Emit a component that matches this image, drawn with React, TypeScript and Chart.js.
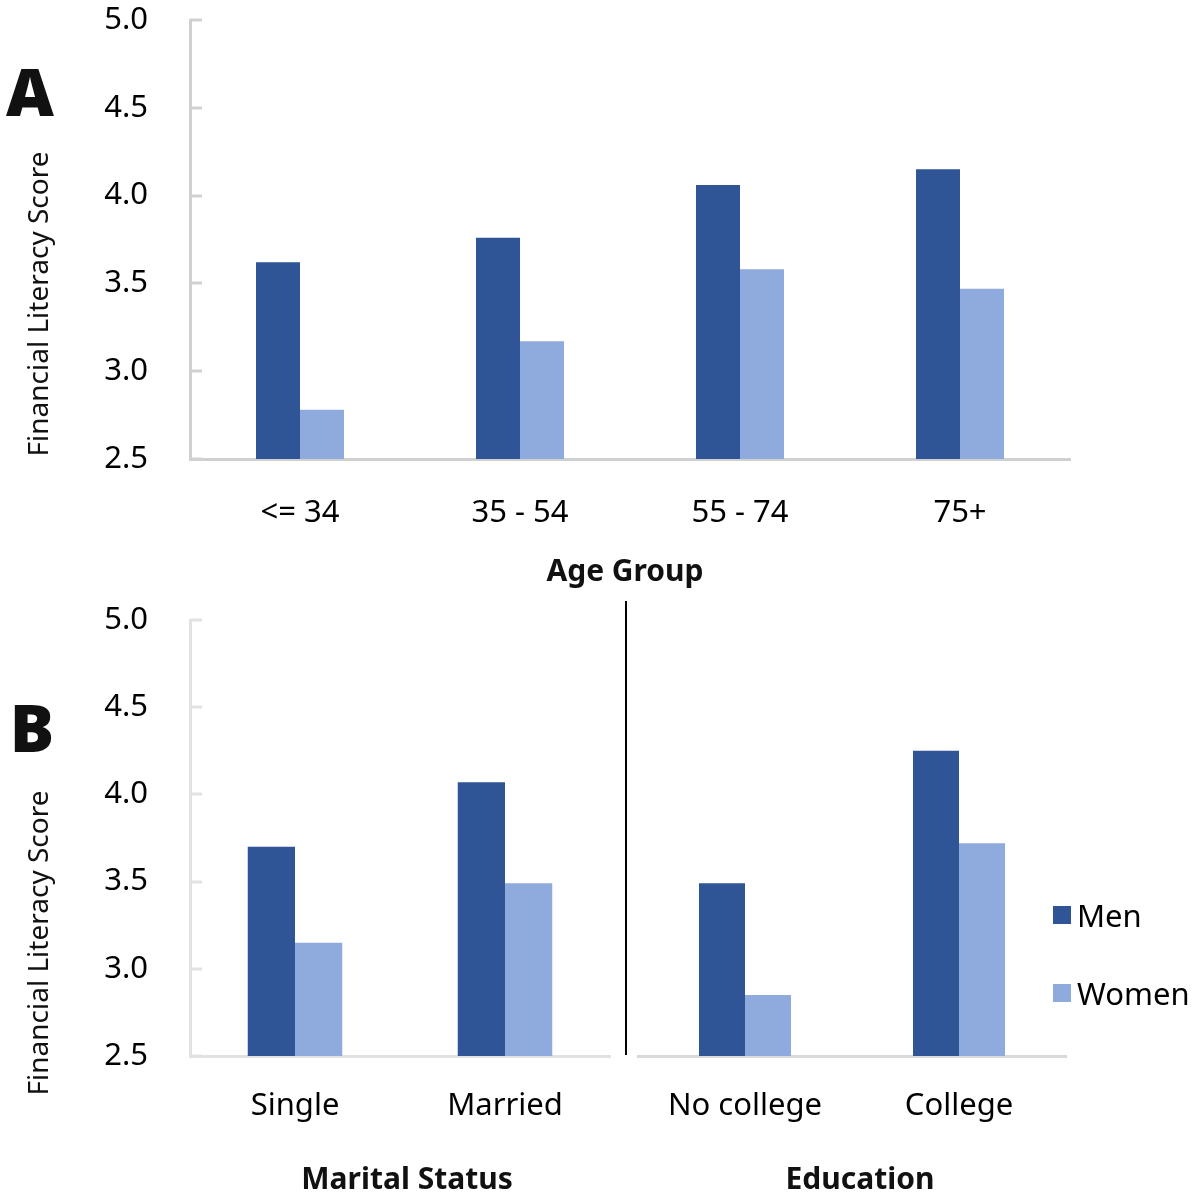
import React, { useEffect, useRef } from "react";
import { Chart, registerables } from "chart.js";

Chart.register(...registerables);

// ---- Data ----
const seriesNames = ["Men", "Women"];
const ageGroups = ["<= 34", "35 - 54", "55 - 74", "75+"];
const ageMen = [3.62, 3.76, 4.06, 4.15];
const ageWomen = [2.78, 3.17, 3.58, 3.47];
const maritalGroups = ["Single", "Married"];
const maritalMen = [3.7, 4.07];
const maritalWomen = [3.15, 3.49];
const eduGroups = ["No college", "College"];
const eduMen = [3.49, 4.25];
const eduWomen = [2.85, 3.72];
const yMin = 2.5;
const yMax = 5.0;
const yStep = 0.5;

const MEN_COLOR = "#2F5597";
const WOMEN_COLOR = "#8FAADC";
const FONT = '"Noto Sans", "Open Sans", sans-serif';

Chart.defaults.font.family = FONT;

const innerTicks = {
  id: "innerTicks",
  beforeDatasetsDraw(chart: any, _args: any, opts: any) {
    if (!opts || !opts.enabled) return;
    const y = chart.scales.y;
    const ctx = chart.ctx;
    ctx.save();
    ctx.strokeStyle = opts.color;
    ctx.lineWidth = 3;
    y.ticks.forEach((t: any) => {
      const py = Math.round(y.getPixelForValue(t.value));
      ctx.beginPath();
      ctx.moveTo(chart.chartArea.left, py);
      ctx.lineTo(chart.chartArea.left + 12, py);
      ctx.stroke();
    });
    ctx.restore();
  },
};

type Props = {
  labels: string[];
  men: number[];
  women: number[];
  catPct: number;
  left: number;
  top: number;
  width: number;
  height: number;
  padding: { top: number; right: number; left: number; bottom: number };
  yWidth: number;
  xHeight: number;
  showY: boolean;
  axisColor: string;
  xTickPad: number;
};

function BarPanel(p: Props) {
  const ref = useRef<HTMLCanvasElement | null>(null);
  useEffect(() => {
    if (!ref.current) return;
    const chart = new Chart(ref.current, {
      type: "bar",
      data: {
        labels: p.labels,
        datasets: [
          {
            label: seriesNames[0],
            data: p.men,
            backgroundColor: MEN_COLOR,
            barPercentage: 1,
            categoryPercentage: p.catPct,
          },
          {
            label: seriesNames[1],
            data: p.women,
            backgroundColor: WOMEN_COLOR,
            barPercentage: 1,
            categoryPercentage: p.catPct,
          },
        ],
      },
      plugins: [innerTicks],
      options: {
        responsive: false,
        animation: false,
        devicePixelRatio: 1,
        layout: { padding: p.padding },
        plugins: {
          legend: { display: false },
          tooltip: { enabled: false },
          innerTicks: { enabled: p.showY, color: p.axisColor },
        } as any,
        scales: {
          x: {
            type: "category",
            grid: { display: false, drawTicks: false },
            border: { display: true, color: p.axisColor, width: 3 },
            ticks: {
              color: "#000",
              font: { size: 31 },
              padding: p.xTickPad,
              maxRotation: 0,
              autoSkip: false,
            },
            afterFit: (s: any) => {
              s.height = p.xHeight;
              s.paddingLeft = 0;
              s.paddingRight = 0;
            },
          },
          y: {
            display: p.showY,
            min: yMin,
            max: yMax,
            grid: { display: false, drawTicks: false },
            border: { display: true, color: p.axisColor, width: 3 },
            ticks: {
              stepSize: yStep,
              color: "#000",
              font: { size: 31 },
              padding: 42,
              callback: (v: any) => Number(v).toFixed(1),
            },
            afterFit: (s: any) => {
              s.width = p.yWidth;
              s.paddingTop = 0;
              s.paddingBottom = 0;
            },
          },
        },
      },
    });
    return () => chart.destroy();
  }, []);
  return (
    <canvas
      ref={ref}
      width={p.width}
      height={p.height}
      style={{ position: "absolute", left: p.left, top: p.top, width: p.width, height: p.height }}
    />
  );
}

function Txt(props: { x: number; y: number; size: number; weight?: number; rotate?: boolean; children: any }) {
  return (
    <div
      style={{
        position: "absolute",
        left: props.x,
        top: props.y,
        transform: `translate(-50%, -50%)${props.rotate ? " rotate(-90deg)" : ""}`,
        fontSize: props.size,
        fontWeight: props.weight || 400,
        lineHeight: 1,
        whiteSpace: "nowrap",
        color: "#111",
      }}
    >
      {props.children}
    </div>
  );
}

export default function App() {
  return (
    <div
      style={{
        position: "absolute",
        left: 0,
        top: 0,
        width: 1201,
        height: 1193,
        overflow: "hidden",
        background: "#fff",
        fontFamily: FONT,
      }}
    >
      <BarPanel
        labels={ageGroups}
        men={ageMen}
        women={ageWomen}
        catPct={0.4}
        left={0}
        top={0}
        width={1201}
        height={590}
        padding={{ top: 20, right: 1201 - 1070, left: 0, bottom: 0 }}
        yWidth={190}
        xHeight={590 - 459}
        showY={true}
        axisColor="#d0d0d0"
        xTickPad={36}
      />
      <BarPanel
        labels={maritalGroups}
        men={maritalMen}
        women={maritalWomen}
        catPct={0.45}
        left={0}
        top={590}
        width={620}
        height={603}
        padding={{ top: 30, right: 10, left: 0, bottom: 0 }}
        yWidth={190}
        xHeight={603 - 466}
        showY={true}
        axisColor="#e2e2e2"
        xTickPad={32}
      />
      <BarPanel
        labels={eduGroups}
        men={eduMen}
        women={eduWomen}
        catPct={0.43}
        left={620}
        top={590}
        width={581}
        height={603}
        padding={{ top: 30, right: 581 - 446, left: 18, bottom: 0 }}
        yWidth={0}
        xHeight={603 - 466}
        showY={false}
        axisColor="#d9d9d9"
        xTickPad={32}
      />
      <div style={{ position: "absolute", left: 625, top: 601, width: 2, height: 454, background: "#000" }} />

      <Txt x={30} y={90} size={66} weight={900}>A</Txt>
      <Txt x={32} y={726} size={66} weight={900}>B</Txt>
      <Txt x={37} y={304} size={28} rotate>Financial Literacy Score</Txt>
      <Txt x={37} y={943} size={28} rotate>Financial Literacy Score</Txt>
      <Txt x={625} y={570} size={30} weight={700}>Age Group</Txt>
      <Txt x={407} y={1178} size={30} weight={700}>Marital Status</Txt>
      <Txt x={860} y={1178} size={30} weight={700}>Education</Txt>

      <div style={{ position: "absolute", left: 1053, top: 906, width: 18, height: 18, background: MEN_COLOR }} />
      <div style={{ position: "absolute", left: 1053, top: 984, width: 18, height: 18, background: WOMEN_COLOR }} />
      <div style={{ position: "absolute", left: 1077, top: 915, transform: "translateY(-50%)", fontSize: 31, lineHeight: 1, color: "#000" }}>{seriesNames[0]}</div>
      <div style={{ position: "absolute", left: 1077, top: 993, transform: "translateY(-50%)", fontSize: 31, lineHeight: 1, color: "#000" }}>{seriesNames[1]}</div>
    </div>
  );
}
